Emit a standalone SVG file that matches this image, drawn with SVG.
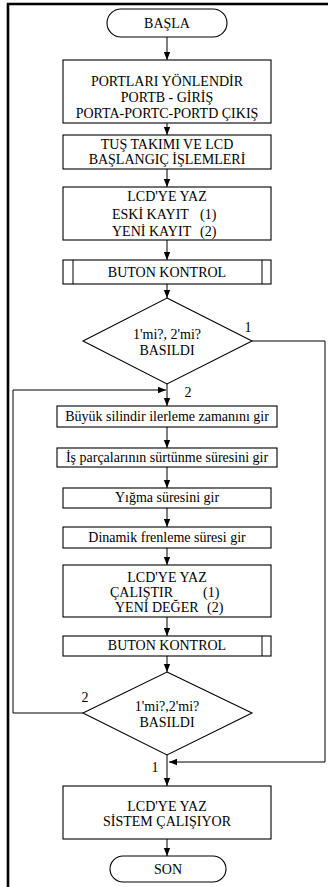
<svg xmlns="http://www.w3.org/2000/svg" width="328" height="887" viewBox="0 0 328 887">
<style>
.s{fill:#fff;stroke:#000;stroke-width:1.1}
.t{font-family:"Liberation Serif","Times New Roman",serif;font-size:14px;fill:#000}
.c{text-anchor:middle}
.ln{fill:none;stroke:#000;stroke-width:1}
</style>
<defs>
<marker id="ah" markerUnits="userSpaceOnUse" markerWidth="8" markerHeight="8" viewBox="0 0 8 8" refX="8" refY="4" orient="auto">
<path d="M0,0.8 L8,4 L0,7.2 Z" fill="#000"/>
</marker>
</defs>
<rect x="0" y="0" width="328" height="887" fill="#fff"/>
<g id="frame">
<path d="M8,887 V4 H328" fill="none" stroke="#000" stroke-width="2.6"/>
</g>
<g id="connectors">
<line class="ln" x1="167" y1="37" x2="167" y2="60" marker-end="url(#ah)"/>
<line class="ln" x1="167" y1="123" x2="167" y2="135" marker-end="url(#ah)"/>
<line class="ln" x1="167" y1="169" x2="167" y2="187" marker-end="url(#ah)"/>
<line class="ln" x1="167" y1="240" x2="167" y2="260" marker-end="url(#ah)"/>
<line class="ln" x1="167" y1="284" x2="167" y2="298" marker-end="url(#ah)"/>
<line class="ln" x1="167" y1="384" x2="167" y2="406" marker-end="url(#ah)"/>
<line class="ln" x1="167" y1="427" x2="167" y2="448" marker-end="url(#ah)"/>
<line class="ln" x1="167" y1="467" x2="167" y2="488" marker-end="url(#ah)"/>
<line class="ln" x1="167" y1="508" x2="167" y2="527" marker-end="url(#ah)"/>
<line class="ln" x1="167" y1="548" x2="167" y2="565" marker-end="url(#ah)"/>
<line class="ln" x1="167" y1="617" x2="167" y2="636" marker-end="url(#ah)"/>
<line class="ln" x1="167" y1="656" x2="167" y2="672" marker-end="url(#ah)"/>
<line class="ln" x1="167" y1="755" x2="167" y2="786" marker-end="url(#ah)"/>
<line class="ln" x1="167" y1="839" x2="167" y2="856" marker-end="url(#ah)"/>
<polyline class="ln" points="252,341 325,341 325,762 169,762" marker-end="url(#ah)"/>
<polyline class="ln" points="83,713 13,713 13,390 166,390" marker-end="url(#ah)"/>
</g>
<g id="n-basla">
<rect class="s" x="107" y="9" width="120" height="28" rx="14"/>
<text class="t c" x="167" y="28">BAŞLA</text>
</g>
<g id="n-port">
<rect class="s" x="63" y="60" width="208" height="63"/>
<text class="t c" x="167" y="86">PORTLARI YÖNLENDİR</text>
<text class="t c" x="167" y="102">PORTB - GİRİŞ</text>
<text class="t c" x="167" y="118">PORTA-PORTC-PORTD ÇIKIŞ</text>
</g>
<g id="n-tus">
<rect class="s" x="63" y="135" width="208" height="34"/>
<text class="t c" x="167" y="149">TUŞ TAKIMI VE LCD</text>
<text class="t c" x="167" y="164">BAŞLANGIÇ İŞLEMLERİ</text>
</g>
<g id="n-lcd1">
<rect class="s" x="63" y="187" width="208" height="53"/>
<text class="t c" x="167" y="201">LCD'YE YAZ</text>
<text class="t" x="112" y="219">ESKİ KAYIT</text>
<text class="t" x="200" y="219">(1)</text>
<text class="t" x="112" y="236">YENİ KAYIT</text>
<text class="t" x="200" y="236">(2)</text>
</g>
<g id="n-buton1">
<rect class="s" x="63" y="260" width="208" height="24"/>
<line class="ln" x1="73" y1="260" x2="73" y2="284"/>
<line class="ln" x1="262" y1="260" x2="262" y2="284"/>
<text class="t c" x="167" y="277">BUTON KONTROL</text>
</g>
<g id="n-karar1">
<polygon class="s" points="167,298 252,341 167,384 83,341"/>
<text class="t c" x="167" y="339">1'mi?, 2'mi?</text>
<text class="t c" x="167" y="355">BASILDI</text>
<text class="t c" x="248" y="332">1</text>
<text class="t c" x="188" y="397">2</text>
</g>
<g id="n-buyuk">
<rect class="s" x="57" y="406" width="220" height="21"/>
<text class="t c" x="167" y="421">Büyük silindir ilerleme zamanını gir</text>
</g>
<g id="n-is">
<rect class="s" x="57" y="448" width="220" height="19"/>
<text class="t c" x="167" y="462">İş parçalarının sürtünme süresini gir</text>
</g>
<g id="n-yigma">
<rect class="s" x="63" y="488" width="208" height="20"/>
<text class="t c" x="167" y="502">Yığma süresini gir</text>
</g>
<g id="n-dinamik">
<rect class="s" x="63" y="527" width="208" height="21"/>
<text class="t c" x="167" y="542">Dinamik frenleme süresi gir</text>
</g>
<g id="n-lcd2">
<rect class="s" x="63" y="565" width="208" height="52"/>
<text class="t c" x="167" y="582">LCD'YE YAZ</text>
<text class="t" x="110" y="597">ÇALIŞTIR</text>
<text class="t" x="203" y="597">(1)</text>
<text class="t" x="115" y="612">YENİ DEĞER</text>
<text class="t" x="207" y="612">(2)</text>
</g>
<g id="n-buton2">
<rect class="s" x="63" y="636" width="208" height="20"/>
<line class="ln" x1="262" y1="636" x2="262" y2="656"/>
<text class="t c" x="167" y="650">BUTON KONTROL</text>
</g>
<g id="n-karar2">
<polygon class="s" points="167,672 252,713 167,755 83,713"/>
<text class="t c" x="167" y="711">1'mi?,2'mi?</text>
<text class="t c" x="167" y="727">BASILDI</text>
<text class="t c" x="85" y="702">2</text>
<text class="t c" x="155" y="772">1</text>
</g>
<g id="n-lcd3">
<rect class="s" x="63" y="786" width="208" height="53"/>
<text class="t c" x="167" y="811">LCD'YE YAZ</text>
<text class="t c" x="167" y="826">SİSTEM ÇALIŞIYOR</text>
</g>
<g id="n-son">
<rect class="s" x="110" y="856" width="116" height="26" rx="13"/>
<text class="t c" x="168" y="874">SON</text>
</g>
</svg>
